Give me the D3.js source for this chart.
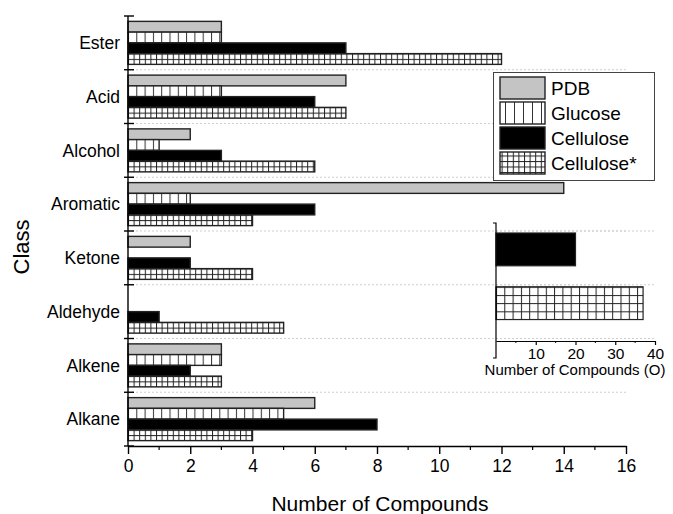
<!DOCTYPE html>
<html>
<head>
<meta charset="utf-8">
<script src="https://cdn.jsdelivr.net/npm/d3@7"></script>
<style>
  body { margin: 0; background: #fff; }
  svg text { font-family: "Liberation Sans", Arial, sans-serif; fill: #000; }
</style>
</head>
<body>
<div id="chart"></div>
<script>
// chart data
var categories = ["Ester", "Acid", "Alcohol", "Aromatic", "Ketone", "Aldehyde", "Alkene", "Alkane"];
var series = ["PDB", "Glucose", "Cellulose", "Cellulose*"];
var pdb = [3, 7, 2, 14, 2, 0, 3, 6];
var glucose = [3, 3, 1, 2, 0, 0, 3, 5];
var cellulose = [7, 6, 3, 6, 2, 1, 2, 8];
var celluloseStar = [12, 7, 6, 4, 4, 5, 3, 4];
var xTickLabels = [0, 2, 4, 6, 8, 10, 12, 14, 16];

// inset: "other" compounds
var insetSeries = ["Cellulose", "Cellulose*"];
var insetValues = [20, 37];
var insetTickLabels = [10, 20, 30, 40];

var W = 673, H = 514;
var plotLeft = 128, plotRight = 626, plotTop = 16, plotBottom = 446;

var svg = d3.select("#chart").append("svg")
  .attr("width", W)
  .attr("height", H);

var defs = svg.append("defs");

/* vertical lines fill (Glucose) */
function makeLines(id, x0, step)
{
  var p = defs.append("pattern")
    .attr("id", id)
    .attr("patternUnits", "userSpaceOnUse")
    .attr("x", x0).attr("y", 0)
    .attr("width", step).attr("height", 20);
  p.append("rect").attr("width", step).attr("height", 20).attr("fill", "#fff");
  p.append("line").attr("x1", 0.5).attr("x2", 0.5).attr("y1", 0).attr("y2", 20)
    .attr("stroke", "#333").attr("stroke-width", 1);
}

/* small grid fill (Cellulose*) */
function makeGrid(id, x0, y0, w, h)
{
  var p = defs.append("pattern")
    .attr("id", id)
    .attr("patternUnits", "userSpaceOnUse")
    .attr("x", x0).attr("y", y0)
    .attr("width", w).attr("height", h);
  p.append("rect").attr("width", w).attr("height", h).attr("fill", "#fff");
  p.append("line").attr("x1", 0.5).attr("x2", 0.5).attr("y1", 0).attr("y2", h)
    .attr("stroke", "#222").attr("stroke-width", 1);
  p.append("line").attr("x1", 0).attr("x2", w).attr("y1", 0.5).attr("y2", 0.5)
    .attr("stroke", "#222").attr("stroke-width", 1);
}

var x = d3.scaleLinear().domain([0, 16]).range([plotLeft, plotRight]);
var y0 = d3.scaleBand().domain(categories).range([plotTop, plotBottom]).padding(0);
var y1 = d3.scaleBand().domain(series).range([0, y0.bandwidth()])
  .paddingInner(0).paddingOuter(0.5);

makeLines("glucose", plotLeft, 8.3);
makeGrid("cellstar", plotLeft, plotTop + y1.step() / 2, 5.6, y1.step() / 2);
makeLines("glucoseLeg", 500, 9);
makeGrid("cellstarLeg", 500, 152, 5.6, 5.5);

var fills = { "PDB": "#c4c4c4", "Glucose": "url(#glucose)", "Cellulose": "#000", "Cellulose*": "url(#cellstar)" };
var legFills = { "PDB": "#c4c4c4", "Glucose": "url(#glucoseLeg)", "Cellulose": "#000", "Cellulose*": "url(#cellstarLeg)" };

var rows = categories.map(function(c, i) {
  return { cat: c, vals: [pdb[i], glucose[i], cellulose[i], celluloseStar[i]] };
});

/* dotted grid lines at category boundaries */
var bounds = categories.slice(1).map(function(c) { return y0(c); });
svg.selectAll(".grid")
  .data(bounds)
 .enter().append("line")
  .attr("class", "grid")
  .attr("x1", plotLeft).attr("x2", plotRight)
  .attr("y1", function(d) { return d; }).attr("y2", function(d) { return d; })
  .attr("stroke", "#cfcfcf").attr("stroke-width", 1)
  .attr("stroke-dasharray", "2,2");

/* bars */
var groups = svg.selectAll(".cat")
  .data(rows)
 .enter().append("g")
  .attr("class", "cat")
  .attr("transform", function(d) { return "translate(0," + y0(d.cat) + ")"; });

groups.selectAll("rect")
  .data(function(d) {
    return d.vals.map(function(v, i) { return { s: series[i], v: v }; })
      .filter(function(e) { return e.v > 0; });
  })
 .enter().append("rect")
  .attr("x", x(0))
  .attr("y", function(d) { return y1(d.s); })
  .attr("width", function(d) { return x(d.v) - x(0); })
  .attr("height", y1.bandwidth())
  .attr("fill", function(d) { return fills[d.s]; })
  .attr("stroke", "#222")
  .attr("stroke-width", 1.4);

/* x axis */
var xAxis = d3.axisBottom(x).tickValues(xTickLabels).tickSize(8).tickSizeOuter(0).tickPadding(6);
var gx = svg.append("g").attr("transform", "translate(0," + plotBottom + ")").call(xAxis);
gx.select(".domain").attr("stroke", "#000").attr("stroke-width", 1.4);
gx.selectAll(".tick line").attr("stroke", "#000").attr("stroke-width", 1.4);
gx.selectAll(".tick text").attr("font-size", 17.5).attr("font-family", "Liberation Sans, Arial, sans-serif");
gx.selectAll(".minor")
  .data(d3.range(1, 16, 2))
 .enter().append("line")
  .attr("class", "minor")
  .attr("x1", function(d) { return x(d); }).attr("x2", function(d) { return x(d); })
  .attr("y1", 0).attr("y2", 4)
  .attr("stroke", "#000").attr("stroke-width", 1.2);

/* y axis: boundary ticks and class names */
svg.append("line")
  .attr("x1", plotLeft).attr("x2", plotLeft).attr("y1", plotTop).attr("y2", plotBottom)
  .attr("stroke", "#000").attr("stroke-width", 1.4);
svg.selectAll(".ytick")
  .data(categories.map(function(c) { return y0(c); }).concat([plotBottom]))
 .enter().append("line")
  .attr("class", "ytick")
  .attr("x1", plotLeft - 4).attr("x2", plotLeft + 6)
  .attr("y1", function(d) { return d; }).attr("y2", function(d) { return d; })
  .attr("stroke", "#000").attr("stroke-width", 1.4);
svg.selectAll(".ylab")
  .data(categories)
 .enter().append("text")
  .attr("class", "ylab")
  .attr("x", plotLeft - 8)
  .attr("y", function(d) { return y0(d) + y0.bandwidth() / 2; })
  .attr("dy", "0.35em")
  .attr("text-anchor", "end")
  .attr("font-size", 17.5)
  .text(function(d) { return d; });

/* axis titles */
svg.append("text")
  .attr("x", 380).attr("y", 511)
  .attr("text-anchor", "middle")
  .attr("font-size", 21)
  .text("Number of Compounds");
svg.append("text")
  .attr("transform", "translate(29,247) rotate(-90)")
  .attr("text-anchor", "middle")
  .attr("font-size", 22)
  .text("Class");

/* legend */
var leg = svg.append("g");
leg.append("rect")
  .attr("x", 493.5).attr("y", 72.5).attr("width", 161).attr("height", 108)
  .attr("fill", "#fff").attr("stroke", "#444").attr("stroke-width", 1);
var li = leg.selectAll(".li")
  .data(series)
 .enter().append("g")
  .attr("class", "li")
  .attr("transform", function(d, i) { return "translate(500," + (77 + i * 25) + ")"; });
li.append("rect")
  .attr("width", 45).attr("height", 22)
  .attr("fill", function(d) { return legFills[d]; })
  .attr("stroke", "#222").attr("stroke-width", 1.4);
li.append("text")
  .attr("x", 51).attr("y", 11).attr("dy", "0.36em")
  .attr("font-size", 19)
  .text(function(d) { return d; });

/* inset chart (O) */
var ix = d3.scaleLinear().domain([0, 40]).range([496, 655]);
var iy = d3.scaleBand().domain(insetSeries)
  .range([y0("Ketone"), y0("Aldehyde") + y0.bandwidth()]).padding(0);
var ibarH = iy.bandwidth() * 0.61;
makeGrid("cellstarIn", 496, iy("Cellulose*") + 2, 8.3, ibarH / 4);
var insetFills = { "Cellulose": "#000", "Cellulose*": "url(#cellstarIn)" };

svg.selectAll(".igrid")
  .data(insetSeries.map(function(s) { return iy(s); }).concat([iy.range()[1]]))
 .enter().append("line")
  .attr("class", "igrid")
  .attr("x1", 496).attr("x2", 655)
  .attr("y1", function(d) { return d; }).attr("y2", function(d) { return d; })
  .attr("stroke", "#cfcfcf").attr("stroke-width", 1)
  .attr("stroke-dasharray", "2,2");

svg.selectAll(".ibar")
  .data(insetSeries.map(function(s, i) { return { s: s, v: insetValues[i] }; }))
 .enter().append("rect")
  .attr("class", "ibar")
  .attr("x", ix(0))
  .attr("y", function(d) { return iy(d.s) + 2; })
  .attr("width", function(d) { return ix(d.v) - ix(0); })
  .attr("height", ibarH)
  .attr("fill", function(d) { return insetFills[d.s]; })
  .attr("stroke", "#222").attr("stroke-width", 1.2);

var ixAxis = d3.axisBottom(ix).tickValues(insetTickLabels).tickSize(4).tickSizeOuter(0).tickPadding(3);
var gix = svg.append("g").attr("transform", "translate(0,341)").call(ixAxis);
gix.select(".domain").attr("stroke", "#000").attr("stroke-width", 1.2);
gix.selectAll(".tick line").attr("stroke", "#000").attr("stroke-width", 1.2);
gix.selectAll(".tick text").attr("font-size", 15.5).attr("font-family", "Liberation Sans, Arial, sans-serif");
gix.selectAll(".minor")
  .data([5, 15, 25, 35])
 .enter().append("line")
  .attr("class", "minor")
  .attr("x1", function(d) { return ix(d); }).attr("x2", function(d) { return ix(d); })
  .attr("y1", 0).attr("y2", 2)
  .attr("stroke", "#000").attr("stroke-width", 1);

svg.append("path")
  .attr("d", "M493,223H496V358H493")
  .attr("fill", "none").attr("stroke", "#000").attr("stroke-width", 1.2);

svg.append("text")
  .attr("x", 575).attr("y", 375)
  .attr("text-anchor", "middle")
  .attr("font-size", 15)
  .text("Number of Compounds (O)");
</script>
</body>
</html>
